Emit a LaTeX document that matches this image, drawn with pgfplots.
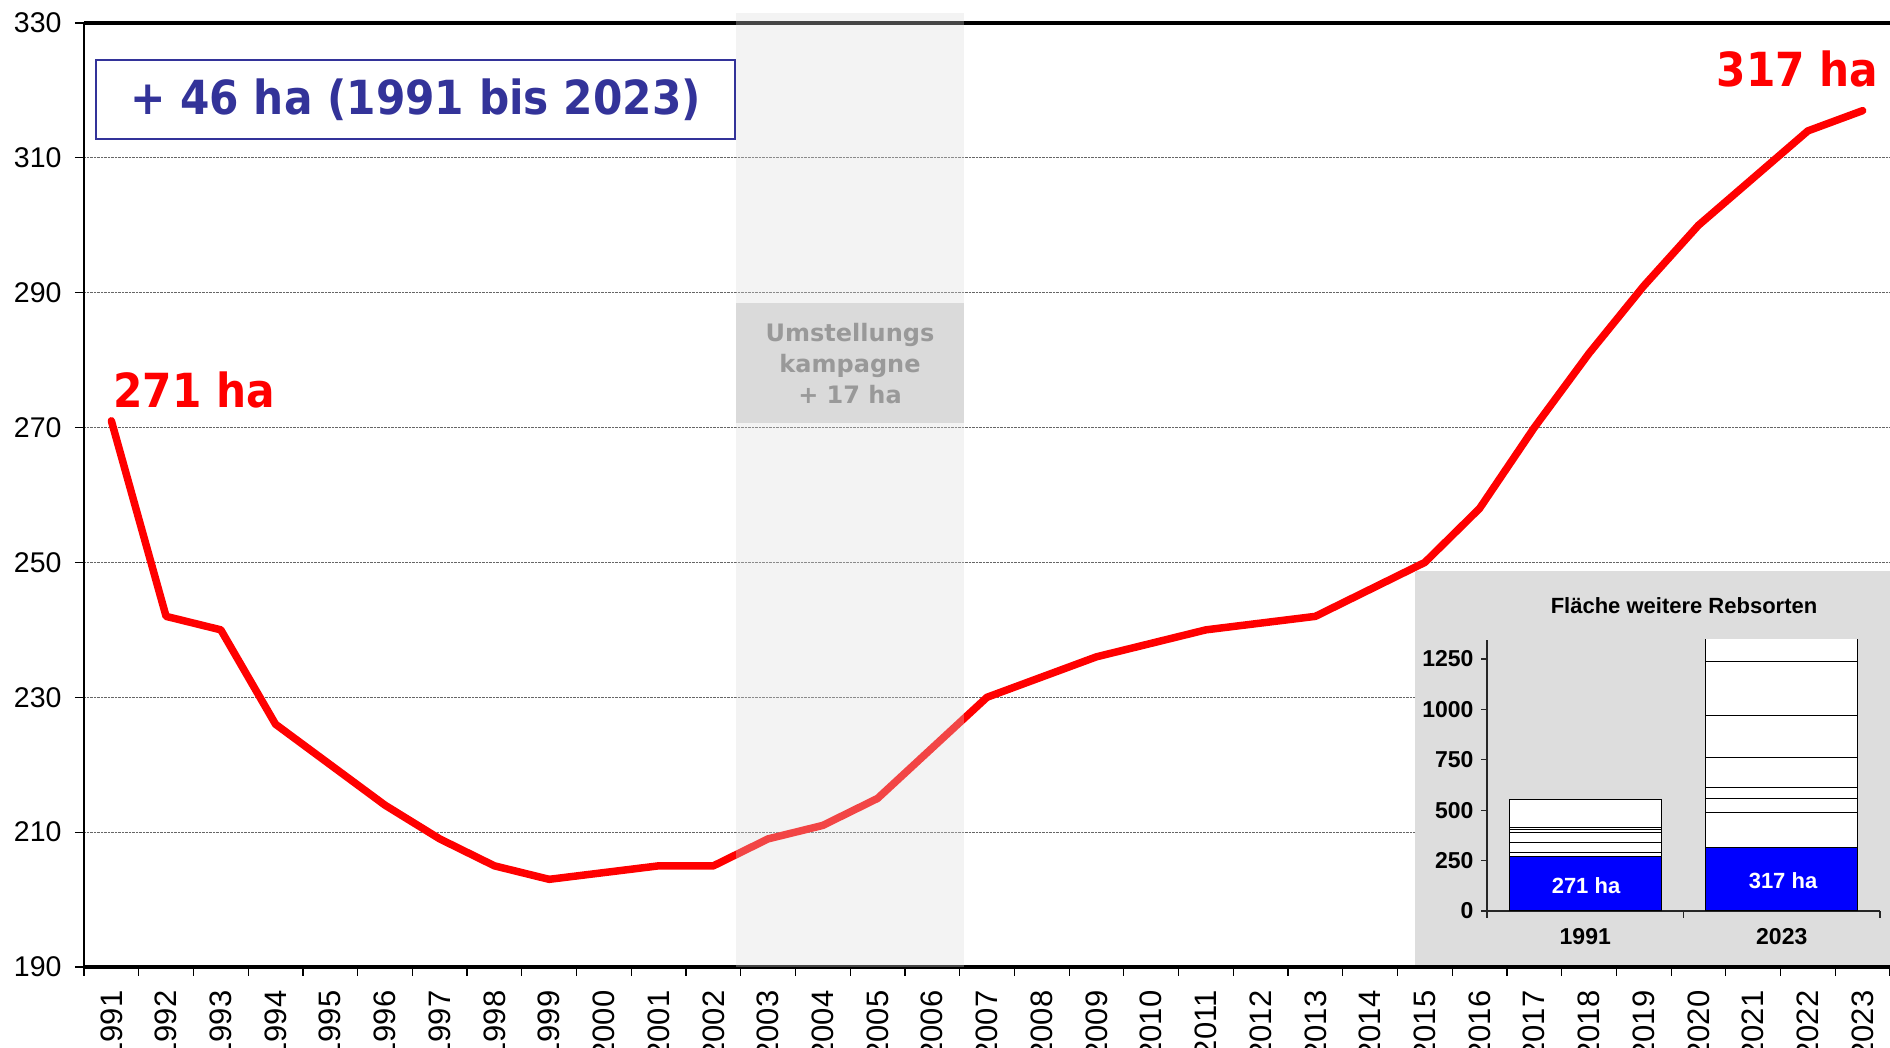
\documentclass[border=0pt]{standalone}
\usepackage{fontspec}
\setmainfont{Liberation Sans}
\newfontfamily\tah[FakeStretch=0.9]{DejaVu Sans}
\newfontfamily\verd{DejaVu Sans}
\usepackage{pgfplots}
\pgfplotsset{compat=1.18}
\definecolor{hred}{RGB}{255,0,0}
\definecolor{navy}{RGB}{51,51,153}
\definecolor{shadec}{RGB}{217,217,217}
\definecolor{innerc}{RGB}{218,218,218}
\definecolor{insetbg}{RGB}{221,221,221}
\definecolor{boxtxt}{RGB}{153,153,153}
\definecolor{barblue}{RGB}{0,0,255}
\begin{document}
\begin{tikzpicture}
\begin{axis}[
  at={(0pt,0pt)}, anchor=south west,
  scale only axis, width=1806pt, height=944pt,
  xmin=0.5, xmax=33.5, ymin=190, ymax=330,
  axis x line*=box, axis y line*=left,
  axis line style={-},
  x axis line style={line width=3.2pt, black},
  y axis line style={line width=2.4pt, black},
  xtick={1,...,33},
  xticklabels={1991,1992,1993,1994,1995,1996,1997,1998,1999,2000,2001,2002,2003,2004,2005,2006,2007,2008,2009,2010,2011,2012,2013,2014,2015,2016,2017,2018,2019,2020,2021,2022,2023},
  xtick pos=bottom, ytick pos=left,
  major x tick style={draw=none},
  minor xtick={0.5,1.5,...,33.5},
  minor x tick style={black, line width=1.2pt},
  major y tick style={black, line width=1.2pt},
  tick align=outside, major tick length=9pt, minor tick length=9pt,
  ytick={190,210,...,330},
  ymajorgrids, grid style={densely dotted, black!60, line width=1.2pt},
  xticklabel style={rotate=90, anchor=east, font=\fontsize{31}{31}\selectfont},
  xticklabel shift=11pt,
  yticklabel style={font=\fontsize{28.5}{28.5}\selectfont},
  yticklabel shift=10pt,
  /pgf/number format/assume math mode=true,
  /pgf/number format/1000 sep={},
]
\addplot[hred, line width=7.5pt, line join=round, line cap=round] coordinates {
(1,271) (2,242) (3,240) (4,226) (5,220) (6,214) (7,209) (8,205) (9,203) (10,204)
(11,205) (12,205) (13,209) (14,211) (15,215) (16,222.5) (17,230) (18,233) (19,236) (20,238)
(21,240) (22,241) (23,242) (24,246) (25,250) (26,258) (27,270) (28,281) (29,291) (30,300)
(31,307) (32,314) (33,317)};
\node[text=hred, font=\tah\fontsize{47}{47}\selectfont\bfseries, inner sep=0pt] at (axis cs:2.51,275.6) {271 ha};
\node[text=hred, font=\tah\fontsize{47}{47}\selectfont\bfseries, inner sep=0pt] at (axis cs:31.81,323.2) {317 ha};
\end{axis}
% shaded campaign region
\fill[shadec, opacity=0.32] (652pt,0pt) rectangle (880pt,954pt);
\fill[innerc] (652pt,544pt) rectangle (880pt,664pt);
\node[text=boxtxt, font=\verd\fontsize{24}{31}\selectfont\bfseries, align=center] at (766pt,603pt) {Umstellungs\\kampagne\\+ 17 ha};
% summary box
\draw[navy, line width=2pt] (12pt,828pt) rectangle (651pt,907pt);
\node[text=navy, font=\tah\fontsize{47}{47}\selectfont\bfseries, inner sep=0pt] at (331.5pt,867.5pt) {+ 46 ha (1991 bis 2023)};
% inset
\fill[insetbg] (1331pt,1.6pt) rectangle (1806pt,396pt);
\node[font=\fontsize{22}{22}\selectfont\bfseries] at (1600pt,361pt) {Fläche weitere Rebsorten};
\begin{axis}[
  at={(1403pt,56pt)}, anchor=south west,
  scale only axis, width=393pt, height=271pt,
  xmin=-0.5, xmax=1.5, ymin=0, ymax=1344,
  ybar stacked, bar width=152pt,
  axis x line*=bottom, axis y line*=left,
  axis line style={-, line width=1.5pt, black!85},
  xtick={0,1}, xticklabels={1991,2023},
  major x tick style={draw=none},
  minor xtick={-0.5,0.5,1.5},
  minor x tick style={black!85, line width=1.2pt},
  major y tick style={black!85, line width=1.2pt},
  ytick={0,250,...,1250},
  tick align=outside, major tick length=6pt, minor tick length=7pt,
  ticklabel style={font=\fontsize{23}{23}\selectfont\bfseries},
  xticklabel shift=8pt, yticklabel shift=4pt,
  /pgf/number format/assume math mode=true,
  /pgf/number format/1000 sep={},
]
\addplot[fill=barblue, draw=black, line width=1pt] coordinates {(0,271) (1,317)};
\addplot[fill=white, draw=black, line width=1pt] coordinates {(0,18) (1,173)};
\addplot[fill=white, draw=black, line width=1pt] coordinates {(0,50) (1,68)};
\addplot[fill=white, draw=black, line width=1pt] coordinates {(0,49) (1,56)};
\addplot[fill=white, draw=black, line width=1pt] coordinates {(0,15) (1,145)};
\addplot[fill=white, draw=black, line width=1pt] coordinates {(0,9) (1,212)};
\addplot[fill=white, draw=black, line width=1pt] coordinates {(0,141) (1,266)};
\addplot[fill=white, draw=black, line width=1pt] coordinates {(0,0) (1,163)};
\end{axis}
\node[white, font=\fontsize{22}{22}\selectfont\bfseries] at (1502pt,81pt) {271 ha};
\node[white, font=\fontsize{22}{22}\selectfont\bfseries] at (1699pt,86pt) {317 ha};
\pgfresetboundingbox
\useasboundingbox (-84pt,-81pt) rectangle (1806pt,967pt);
\end{tikzpicture}
\end{document}
